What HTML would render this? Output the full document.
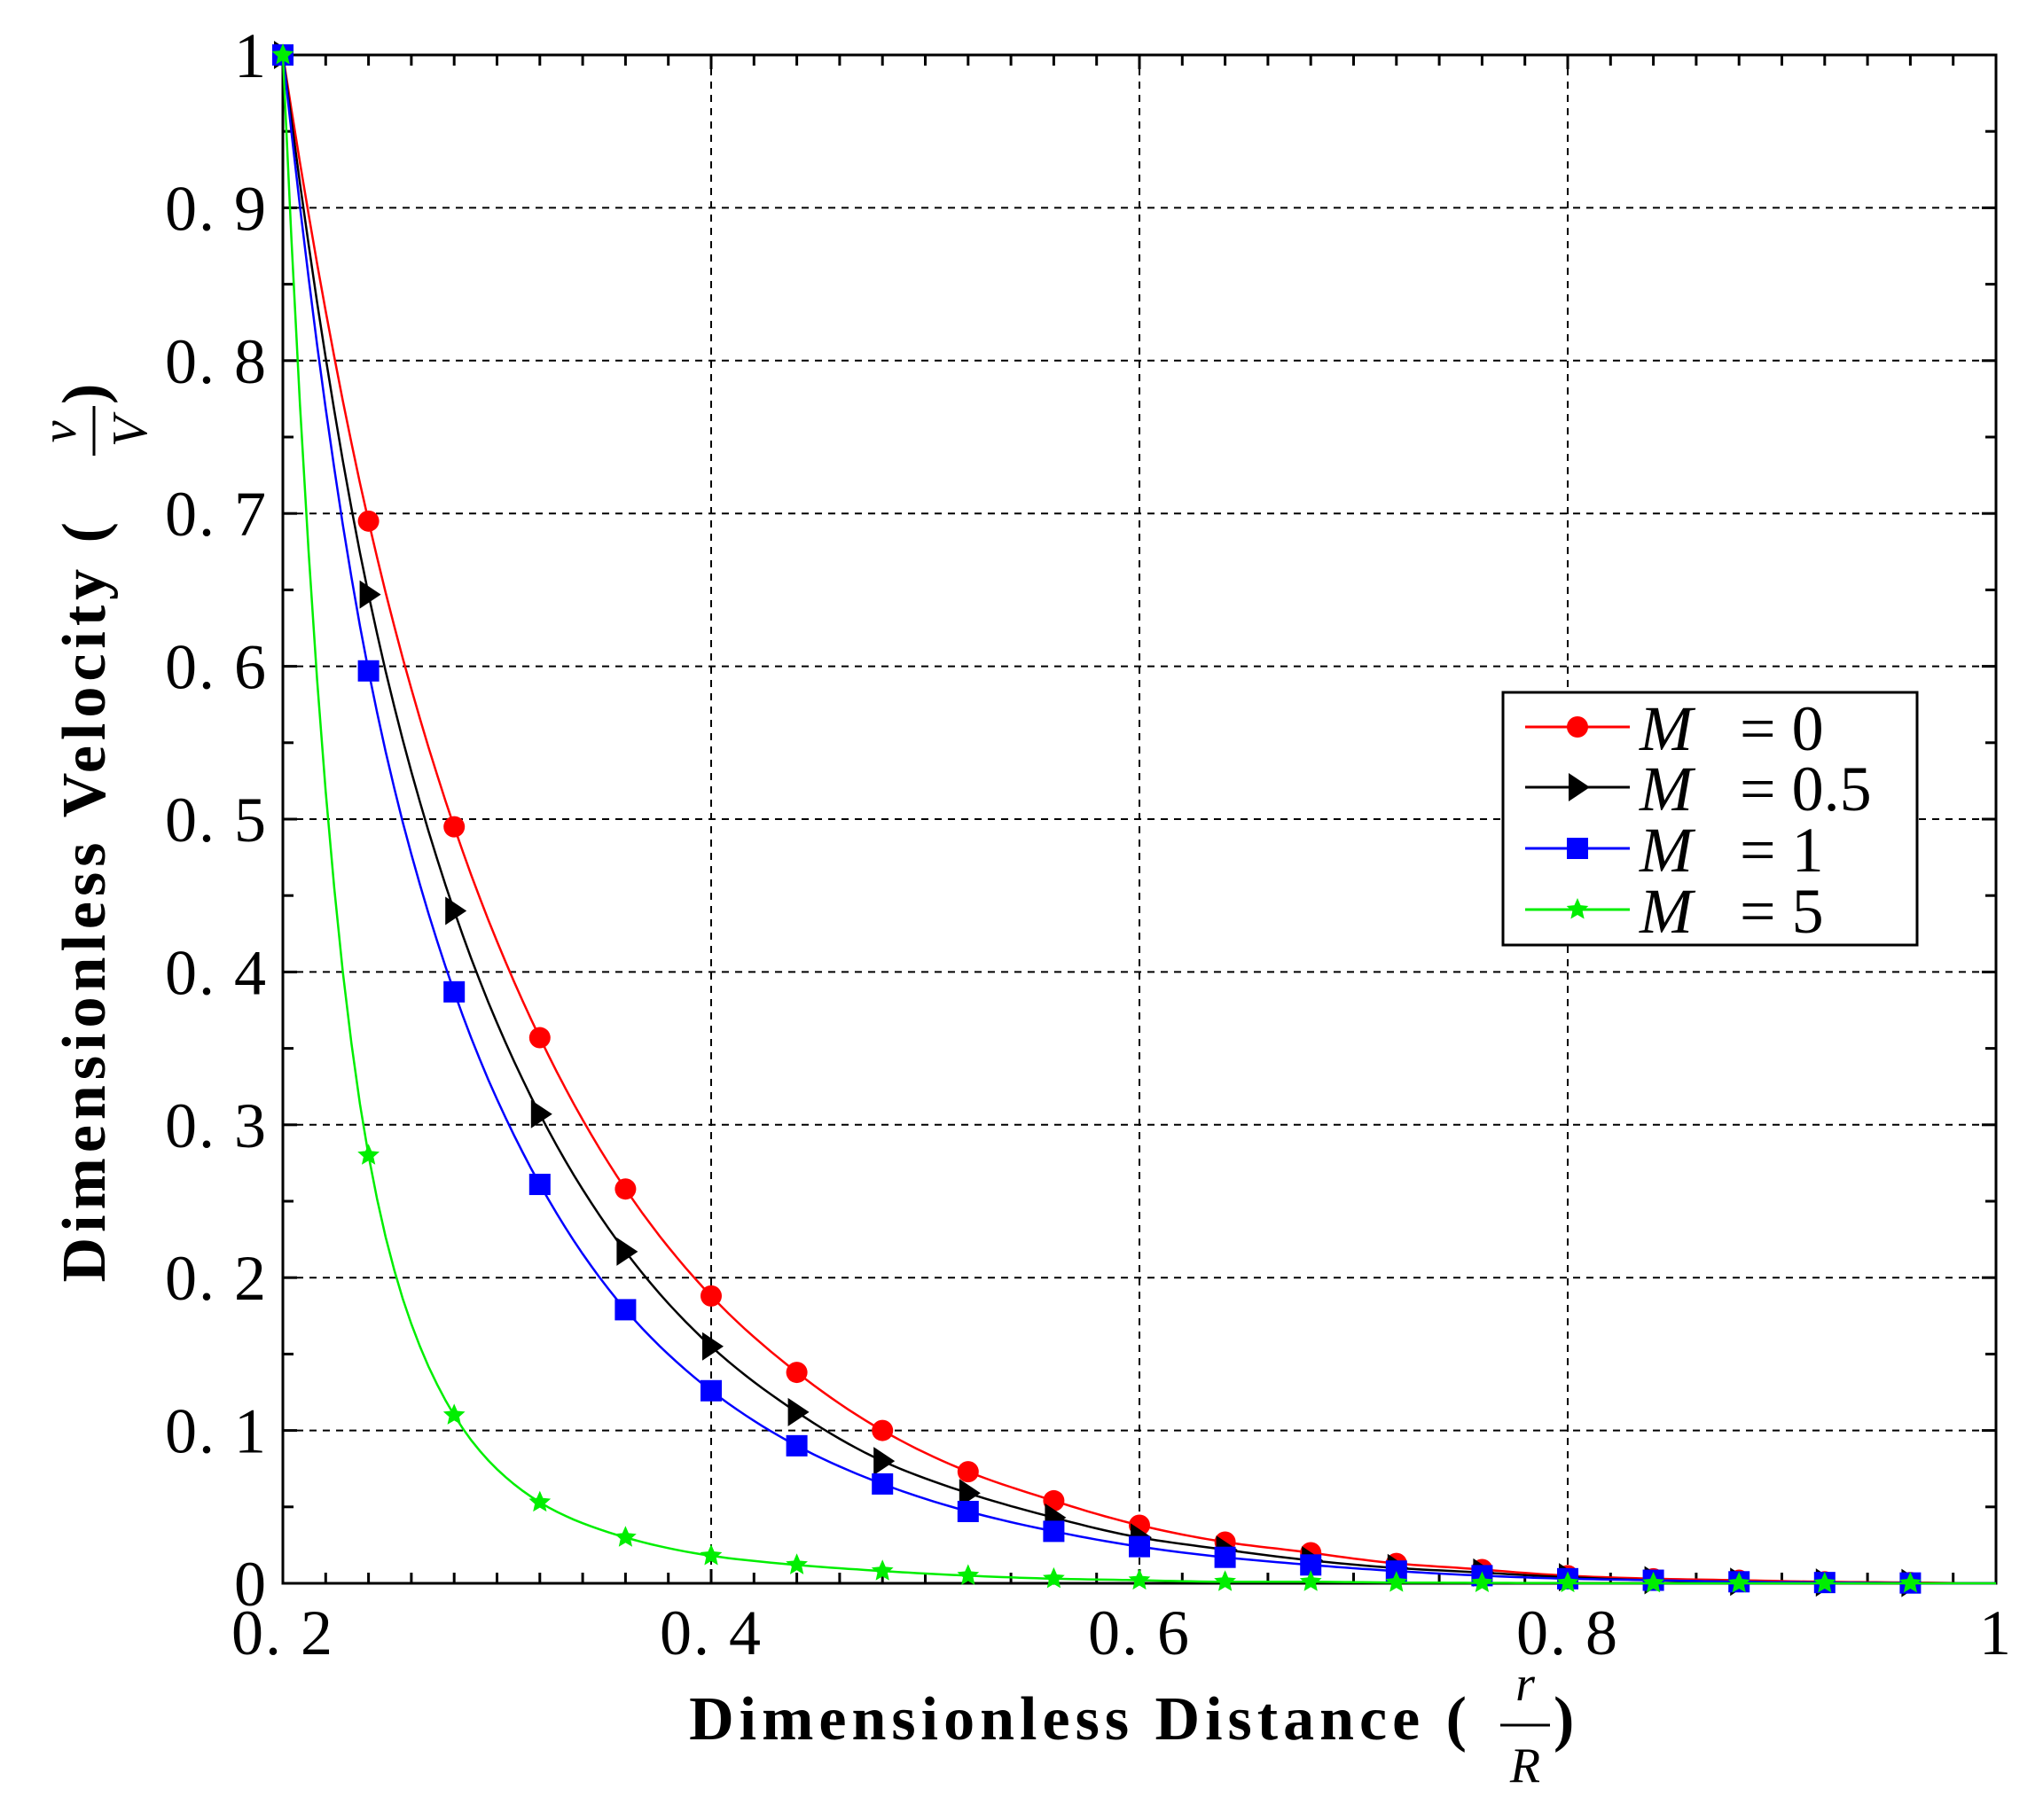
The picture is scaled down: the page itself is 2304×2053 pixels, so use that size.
<!DOCTYPE html>
<html><head><meta charset="utf-8"><style>
html,body{margin:0;padding:0;background:#fff;}
svg{display:block;}
text{font-family:"Liberation Serif",serif;}
</style></head><body>
<svg id="s" width="2304" height="2053" viewBox="0 0 2304 2053" xmlns="http://www.w3.org/2000/svg"></svg>
<script>
const S=document.getElementById('s');
const X0=319,X1=2251,YT=62,YB=1786;
const fx=x=>X0+(x-0.2)/0.8*(X1-X0), fy=y=>YB-y*(YB-YT);
let h='';
for(const x of [0.4,0.6,0.8]) h+=`<line x1="${fx(x)}" y1="${YT}" x2="${fx(x)}" y2="${YB}" stroke="#000" stroke-width="2" stroke-dasharray="8,7"/>`;
for(let i=1;i<10;i++) h+=`<line x1="${X0}" y1="${fy(i/10)}" x2="${X1}" y2="${fy(i/10)}" stroke="#000" stroke-width="2" stroke-dasharray="8,7"/>`;
for(let i=0;i<=40;i++){const x=fx(0.2+i*0.02);const L=(i%10==0)?16:12;
 h+=`<line x1="${x}" y1="${YB}" x2="${x}" y2="${YB-L}" stroke="#000" stroke-width="3"/><line x1="${x}" y1="${YT}" x2="${x}" y2="${YT+L}" stroke="#000" stroke-width="3"/>`;}
for(let i=0;i<=20;i++){const y=fy(i*0.05);const L=(i%2==0)?16:12;
 h+=`<line x1="${X0}" y1="${y}" x2="${X0+L}" y2="${y}" stroke="#000" stroke-width="3"/><line x1="${X1}" y1="${y}" x2="${X1-L}" y2="${y}" stroke="#000" stroke-width="3"/>`;}
h+=`<rect x="${X0}" y="${YT}" width="${X1-X0}" height="${YB-YT}" fill="none" stroke="#000" stroke-width="3"/>`;
const yl=['0','0. 1','0. 2','0. 3','0. 4','0. 5','0. 6','0. 7','0. 8','0. 9','1'];
yl.forEach((t,i)=>{h+=`<text x="302" y="${fy(i/10)+25}" font-size="72" text-anchor="end" letter-spacing="2">${t}</text>`;});
['0. 2','0. 4','0. 6','0. 8','1'].forEach((t,i)=>{h+=`<text x="${fx(0.2+i*0.2)}" y="1866" font-size="72" text-anchor="middle" letter-spacing="2">${t}</text>`;});
h+=`<text x="1660" y="1962" font-size="70" font-weight="bold" text-anchor="end" letter-spacing="6">Dimensionless Distance (</text>`;
h+=`<text x="1720" y="1918" font-size="56" font-style="italic" text-anchor="middle">r</text><line x1="1692" y1="1946" x2="1748" y2="1946" stroke="#000" stroke-width="3"/><text x="1720" y="2010" font-size="56" font-style="italic" text-anchor="middle">R</text><text x="1752" y="1962" font-size="70" font-weight="bold">)</text>`;
h+=`<g transform="translate(118,0) rotate(-90)"><text x="-583" y="0" font-size="70" font-weight="bold" text-anchor="end" letter-spacing="6">Dimensionless Velocity (</text>
<text x="-487" y="-33" font-size="56" font-style="italic" text-anchor="middle">v</text><line x1="-514" y1="-12" x2="-458" y2="-12" stroke="#000" stroke-width="3"/><text x="-487" y="47" font-size="56" font-style="italic" text-anchor="middle">V</text><text x="-456" y="0" font-size="70" font-weight="bold">)</text></g>`;
const D={
r:[1,0.695,0.495,0.357,0.258,0.188,0.138,0.1,0.073,0.054,0.038,0.027,0.02,0.013,0.009,0.005,0.003,0.002,0.001,0.0005,0],
k:[1,0.647,0.44,0.307,0.217,0.155,0.112,0.08,0.059,0.043,0.03,0.022,0.015,0.01,0.007,0.004,0.002,0.001,0.0005,0.0002,0],
b:[1,0.597,0.387,0.261,0.179,0.126,0.09,0.065,0.047,0.034,0.024,0.017,0.012,0.008,0.005,0.003,0.002,0.001,0.0005,0.0002,0],
g:[1,0.28,0.11,0.053,0.03,0.018,0.012,0.008,0.005,0.003,0.002,0.001,0.001,0.0005,0.0003,0.0002,0.0001,0,0,0,0]};
const col={r:'#ff0000',k:'#000',b:'#0000ff',g:'#00ee00'};
function path(v){
 const pts=[];const n=v.length;
 for(let i=0;i<n-1;i++){for(let s=0;s<10;s++){const t=s/10;
  const a=Math.log(Math.max(v[i],1e-4)),b=Math.log(Math.max(v[i+1],1e-4));
  const am=Math.log(Math.max(v[Math.max(i-1,0)],1e-4)),bp=Math.log(Math.max(v[Math.min(i+2,n-1)],1e-4));
  const m0=(b-am)/(i==0?1:2),m1=(bp-a)/(i+2>n-1?1:2);
  const t2=t*t,t3=t2*t;
  const y=(2*t3-3*t2+1)*a+(t3-2*t2+t)*m0+(-2*t3+3*t2)*b+(t3-t2)*m1;
  let val=Math.exp(y); if(val<2e-4)val=0;
  pts.push([fx(0.2+(i+t)*0.04),fy(val)]);}}
 pts.push([fx(1),fy(0)]);
 return 'M'+pts.map(p=>p[0].toFixed(1)+','+p[1].toFixed(1)).join('L');}
function mk(k,x,y){const c=col[k];
 if(k=='r')return `<circle cx="${x}" cy="${y}" r="12" fill="${c}"/>`;
 if(k=='k')return `<polygon points="${x-10},${y-16} ${x+14},${y} ${x-10},${y+16}" fill="${c}"/>`;
 if(k=='b')return `<rect x="${x-12}" y="${y-12}" width="24" height="24" fill="${c}"/>`;
 let p='';for(let i=0;i<10;i++){const r=i%2?6:13,a=i*Math.PI/5-Math.PI/2;p+=`${x+r*Math.cos(a)},${y+r*Math.sin(a)} `;}
 return `<polygon points="${p}" fill="${c}"/>`;}
for(const k of ['r','k','b','g']){
 h+=`<path d="${path(D[k])}" fill="none" stroke="${col[k]}" stroke-width="2.5"/>`;
 for(let i=0;i<20;i++) h+=mk(k,fx(0.2+i*0.04),fy(D[k][i]));}
h+=`<rect x="1695" y="781" width="467" height="285" fill="#fff" stroke="#000" stroke-width="3"/>`;
[['r','0'],['k','0.5'],['b','1'],['g','5']].forEach((e,i)=>{const y=[820,888,957,1026][i];
 h+=`<line x1="1720" y1="${y}" x2="1838" y2="${y}" stroke="${col[e[0]]}" stroke-width="3"/>`+mk(e[0],1779,y);
 h+=`<text x="1849" y="${y+26}" font-size="72" font-style="italic">M</text><text x="1962" y="${y+26}" font-size="72">= ${e[1]}</text>`;});
S.innerHTML=h;
</script>
</body></html>
